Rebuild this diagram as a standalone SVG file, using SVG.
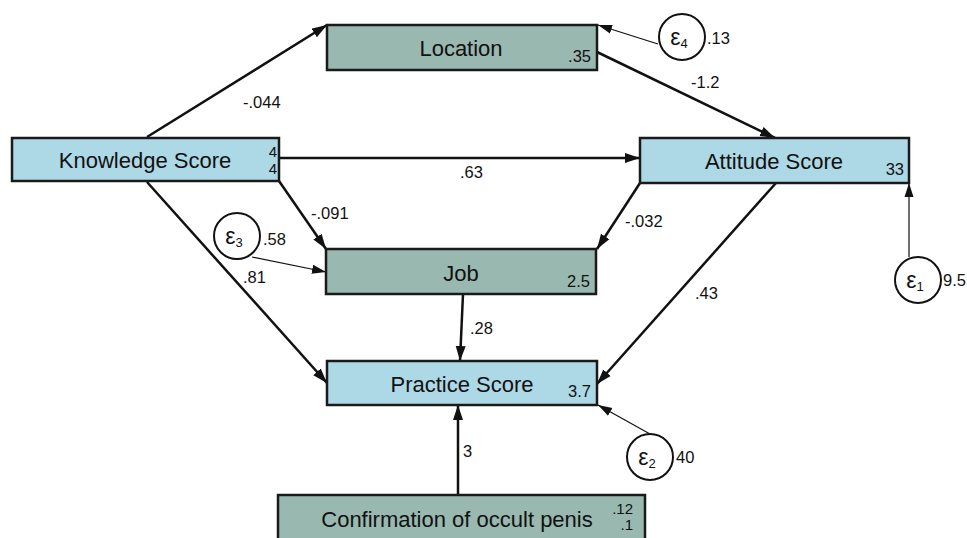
<svg xmlns="http://www.w3.org/2000/svg" width="967" height="538" viewBox="0 0 967 538">
<style>
text{font-family:"Liberation Sans",Arial,sans-serif;fill:#111}
.box{stroke:#1a1a1a;stroke-width:2.5}
.obs{fill:#add8e6}
.grn{fill:#99b8b0}
.name{font-size:22px;text-anchor:middle}
.num{font-size:16.5px;text-anchor:end}
.sm{font-size:15px;text-anchor:end}
.lab{font-size:16.5px}
.e{fill:#fff;stroke:#111;stroke-width:2}
.eps{font-size:23px;text-anchor:middle}
.path{stroke:#111;stroke-width:2.5;fill:none;marker-end:url(#ah)}
.epath{stroke:#111;stroke-width:1.2;fill:none;marker-end:url(#ah2)}
</style>
<defs>
<marker id="ah" markerUnits="userSpaceOnUse" markerWidth="16" markerHeight="12" refX="15" refY="5" orient="auto" viewBox="0 0 16 10">
<path d="M0,0 L15,5 L0,10 z" fill="#111"/>
</marker>
<marker id="ah2" markerUnits="userSpaceOnUse" markerWidth="16" markerHeight="12" refX="14" refY="5" orient="auto" viewBox="0 0 16 10">
<path d="M0,0.5 L14,5 L0,9.5 z" fill="#111"/>
</marker>
</defs>
<rect width="967" height="538" fill="#fff"/>
<g id="connectors">
<line class="path" x1="147" y1="137" x2="327" y2="25"/>
<line class="path" x1="279" y1="158" x2="640" y2="158"/>
<line class="path" x1="279" y1="181" x2="326" y2="249"/>
<line class="path" x1="147" y1="182" x2="327" y2="383"/>
<line class="path" x1="597" y1="52" x2="775" y2="138"/>
<line class="path" x1="640" y1="183" x2="597" y2="249"/>
<line class="path" x1="776" y1="183" x2="597" y2="384"/>
<line class="path" x1="463" y1="294" x2="460" y2="361"/>
<line class="path" x1="458" y1="495" x2="458" y2="405"/>
<line class="epath" x1="658" y1="44" x2="598" y2="25"/>
<line class="epath" x1="252" y1="257" x2="326" y2="272"/>
<line class="epath" x1="909" y1="257" x2="909" y2="183"/>
<line class="epath" x1="650" y1="434" x2="598" y2="405"/>
<text class="lab" x="243" y="108">-.044</text>
<text class="lab" x="691" y="88">-1.2</text>
<text class="lab" x="460" y="178">.63</text>
<text class="lab" x="311" y="219">-.091</text>
<text class="lab" x="625" y="227">-.032</text>
<text class="lab" x="243" y="283">.81</text>
<text class="lab" x="695" y="299">.43</text>
<text class="lab" x="470" y="334">.28</text>
<text class="lab" x="463" y="457">3</text>
</g>
<g id="knowledge">
<rect class="box obs" x="12" y="138" width="267" height="43"/>
<text class="name" x="145" y="168">Knowledge Score</text>
<text class="sm" x="277" y="157">4</text>
<text class="sm" x="277" y="174">4</text>
</g>
<g id="location">
<rect class="box grn" x="327" y="25" width="270" height="45"/>
<text class="name" x="461" y="56">Location</text>
<text class="num" x="591" y="62">.35</text>
</g>
<g id="attitude">
<rect class="box obs" x="640" y="138" width="269" height="45"/>
<text class="name" x="774" y="169">Attitude Score</text>
<text class="num" x="904" y="175">33</text>
</g>
<g id="job">
<rect class="box grn" x="326" y="249" width="270" height="45"/>
<text class="name" x="461" y="281">Job</text>
<text class="num" x="590" y="287">2.5</text>
</g>
<g id="practice">
<rect class="box obs" x="327" y="361" width="270" height="44"/>
<text class="name" x="462" y="392">Practice Score</text>
<text class="num" x="591" y="397">3.7</text>
</g>
<g id="confirmation">
<rect class="box grn" x="278" y="495" width="367" height="55"/>
<text class="name" x="457" y="527">Confirmation of occult penis</text>
<text class="sm" x="633" y="514">.12</text>
<text class="sm" x="633" y="530">.1</text>
</g>
<g id="e4">
<circle class="e" cx="682" cy="37" r="23"/>
<text class="eps" x="679" y="45">ε<tspan font-size="13" dy="3">4</tspan></text>
<text class="lab" x="707" y="44">.13</text>
</g>
<g id="e3">
<circle class="e" cx="237" cy="236" r="23"/>
<text class="eps" x="234" y="244">ε<tspan font-size="13" dy="3">3</tspan></text>
<text class="lab" x="263" y="245">.58</text>
</g>
<g id="e1">
<circle class="e" cx="918" cy="280" r="23"/>
<text class="eps" x="915" y="288">ε<tspan font-size="13" dy="3">1</tspan></text>
<text class="lab" x="943" y="286">9.5</text>
</g>
<g id="e2">
<circle class="e" cx="650" cy="457" r="23"/>
<text class="eps" x="647" y="465">ε<tspan font-size="13" dy="3">2</tspan></text>
<text class="lab" x="676" y="463">40</text>
</g>
</svg>
